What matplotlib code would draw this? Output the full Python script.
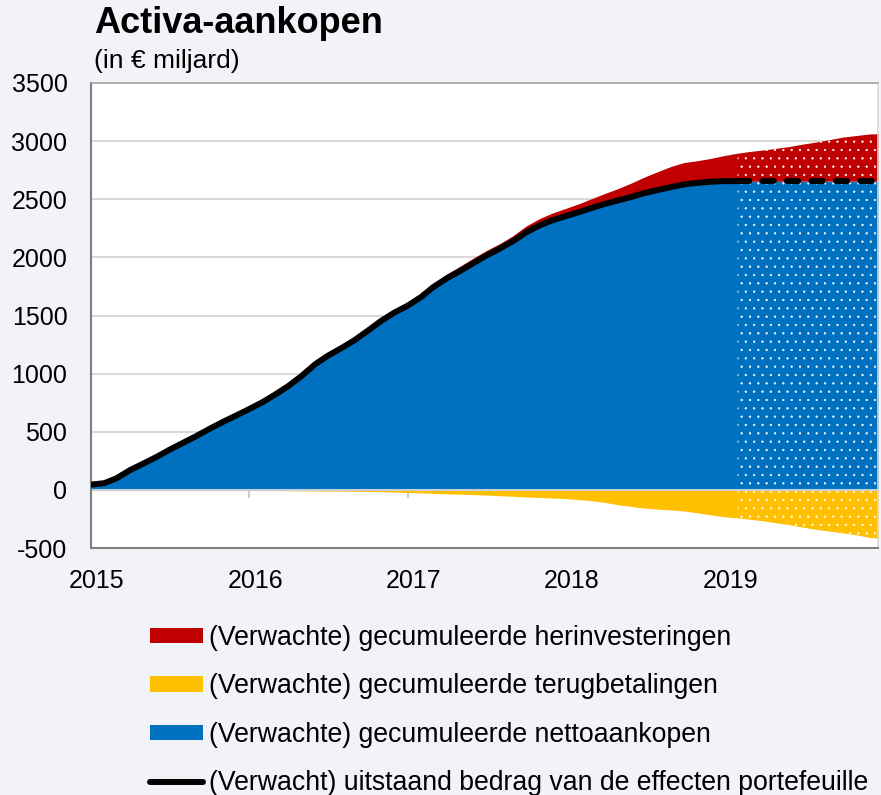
import matplotlib
matplotlib.use("Agg")
import matplotlib.pyplot as plt
import matplotlib.transforms as mtransforms
from matplotlib.patches import Patch
from matplotlib.lines import Line2D
import pandas as pd

plt.rcParams['font.family'] = ['Liberation Sans', 'DejaVu Sans']
plt.rcParams['axes.unicode_minus'] = False
plt.rcParams['hatch.linewidth'] = 0.4
plt.rcParams['hatch.color'] = 'white'

# ---- data (EUR bn), monthly from Jan 2015 ----
months = pd.date_range('2015-01-01', periods=61, freq='MS')
net_purchases = [45, 58, 100, 170, 225, 283, 345, 404, 463, 524, 584, 638, 695,
                 755, 820, 895, 980, 1080, 1155, 1220, 1290, 1370, 1455, 1525, 1585,
                 1660, 1745, 1820, 1882, 1950, 2015, 2075, 2140, 2215, 2275, 2320,
                 2355, 2390, 2425, 2460, 2490, 2520, 2553, 2580, 2605, 2628, 2641,
                 2651, 2656, 2656, 2656, 2656, 2656, 2656, 2656, 2656, 2656, 2656,
                 2656, 2656, 2656]
reinvestments = [0, 0, 1, 1, 1, 2, 2, 2, 3, 3, 3, 4, 4, 5, 6, 7, 8, 9, 10, 11, 12,
                 14, 16, 19, 23, 26, 30, 36, 40, 43, 43, 43, 47, 55, 59, 62, 67, 73,
                 80, 90, 102, 120, 138, 158, 178, 188, 191, 200, 220, 240, 255, 268,
                 282, 298, 318, 336, 357, 378, 392, 405, 412]
redemptions = [0, 0, -1, -1, -1, -2, -2, -2, -3, -3, -3, -4, -4, -5, -6, -7, -8, -9,
               -10, -11, -12, -14, -16, -19, -23, -26, -30, -34, -37, -41, -45, -50,
               -55, -61, -66, -70, -75, -85, -93, -108, -128, -143, -157, -166, -173,
               -182, -198, -215, -232, -240, -253, -266, -283, -301, -320, -340, -355,
               -370, -386, -408, -418]
projection_start = pd.Timestamp('2019-02-01')
years = [2015, 2016, 2017, 2018, 2019]
yticks = [-500, 0, 500, 1000, 1500, 2000, 2500, 3000, 3500]

labels = ['(Verwachte) gecumuleerde herinvesteringen',
          '(Verwachte) gecumuleerde terugbetalingen',
          '(Verwachte) gecumuleerde nettoaankopen',
          '(Verwacht) uitstaand bedrag van de effecten portefeuille']
RED, YELLOW, BLUE = '#C00000', '#FFC000', '#0070C0'
BG = '#F2F3F8'

df = pd.DataFrame({'net': net_purchases, 'reinv': reinvestments,
                   'redemp': redemptions}, index=months)
df['top'] = df['net'] + df['reinv']
proj = df[df.index >= projection_start]
hist = df[df.index <= projection_start]

fig = plt.figure(figsize=(8.81, 7.95), dpi=100, facecolor=BG)
ax = fig.add_axes([91/881, 1-548/795, (878-91)/881, (548-83)/795])
ax.set_facecolor('white')

ax.fill_between(df.index, 0, df['net'], color=BLUE, lw=0, zorder=1)
ax.fill_between(df.index, df['net'], df['top'], color=RED, lw=0, zorder=1)
ax.fill_between(df.index, df['redemp'], 0, color=YELLOW, lw=0, zorder=1)
# dotted overlay for projections
ax.fill_between(proj.index, proj['redemp'], proj['top'], facecolor='none',
                edgecolor='white', hatch='..', lw=0, zorder=2)

ax.axhline(0, color='#C9CDD6', lw=1.5, zorder=2.5)

ax.plot(hist.index, hist['net'], color='black', lw=4.3,
        solid_capstyle='round', solid_joinstyle='round', zorder=3)
ax.plot(proj.index, proj['net'], color='black', lw=4.3, dashes=(1.9, 2.2),
        dash_capstyle='round', zorder=3)

ax.set_ylim(-500, 3500)
ax.set_yticks(yticks)
ax.set_yticklabels([str(v) for v in yticks])
ax.set_xlim(pd.Timestamp('2015-01-01'), pd.Timestamp('2019-12-22'))
ax.set_xticks([pd.Timestamp(f'{y}-01-01') for y in years])
ax.set_xticklabels([str(y) for y in years])
ax.tick_params(axis='y', length=0, pad=17, labelsize=18)
ax.tick_params(axis='x', length=0, pad=15, labelsize=18)
for lab in ax.get_xticklabels():
    lab.set_transform(lab.get_transform() +
                      mtransforms.ScaledTranslation(6/100, 0, fig.dpi_scale_trans))
ax.grid(axis='y', color='#D9D9D9', lw=1.5, zorder=0)
ax.set_axisbelow(True)
for s in ['left', 'bottom']:
    ax.spines[s].set_color('#7F7F7F')
    ax.spines[s].set_linewidth(1.5)
ax.spines['top'].set_color('#A6A6A6')
ax.spines['top'].set_linewidth(1.2)
ax.spines['right'].set_color('#D9D9D9')
ax.spines['right'].set_linewidth(1.2)

# small year ticks on the zero line
sec = ax.secondary_xaxis(500/4000)
sec.set_xticks([pd.Timestamp(f'{y}-01-01') for y in years])
sec.tick_params(axis='x', direction='out', length=6, width=1.5,
                color='#C9CDD6', labelbottom=False)
sec.spines['bottom'].set_visible(False)

fig.text(94/881, 1-33/795, 'Activa-aankopen', fontsize=26, fontweight='bold',
         ha='left', va='baseline')
fig.text(94/881, 1-68/795, '(in € miljard)', fontsize=19, ha='left', va='baseline')

handles = [Patch(facecolor=RED, edgecolor='none'),
           Patch(facecolor=YELLOW, edgecolor='none'),
           Patch(facecolor=BLUE, edgecolor='none'),
           Line2D([0], [0], color='black', lw=4.3, solid_capstyle='round')]
fig.legend(handles, labels, loc='upper left', bbox_to_anchor=(150/881, 1-625/795),
           frameon=False, fontsize=19.2, handlelength=2.0, handleheight=0.5,
           handletextpad=0.22, labelspacing=0.84, borderpad=0, borderaxespad=0)

fig.savefig('out.png', dpi=100, facecolor=BG)
